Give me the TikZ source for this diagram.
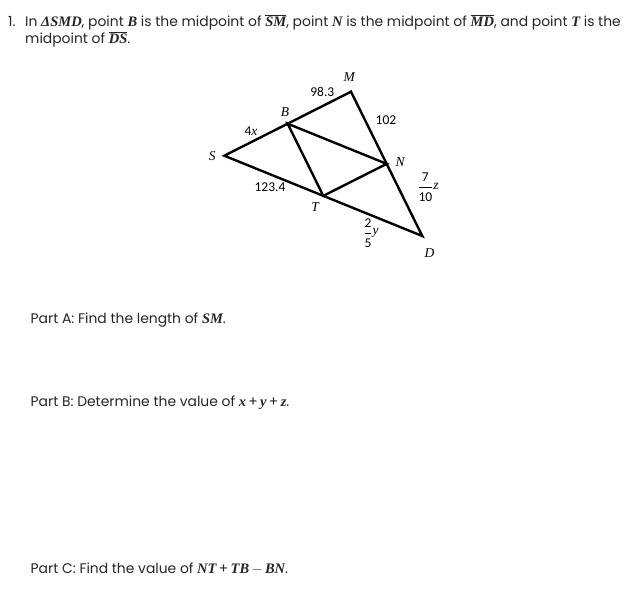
\documentclass[tikz,border=0pt]{standalone}
\usepackage{fontspec}
\usetikzlibrary{calc}
\setmainfont{Poppins}
\newfontfamily\mathser{Liberation Serif}
\newfontfamily\digs{Carlito}
\newcommand{\bv}[1]{{\mathser\bfseries\itshape\fontsize{14.5}{16}\selectfont #1}}
\newcommand{\ov}[1]{$\overline{\hbox{\bv{#1}}}$}
\begin{document}
\begin{tikzpicture}[x=1pt,y=-1pt,
  txt/.style={anchor=base west,inner sep=0pt,font=\fontsize{13.9}{16}\selectfont,text=black!85},
  pt/.style={inner sep=0pt,font=\mathser\itshape\fontsize{13.5}{15}\selectfont},
  num/.style={inner sep=0pt,font=\digs\fontsize{13.5}{15}\selectfont},
  edge/.style={line width=2.4pt,line join=miter}]
\useasboundingbox (0,0) rectangle (626,613);
\fill[white] (0,0) rectangle (626,613);
% text
\node[txt] (n1) at (8,26) {1.};
\node[txt] (l1) at (25,26) {In \bv{ΔSMD}, point \bv{B} is the midpoint of \ov{SM}, point \bv{N} is the midpoint of \ov{MD}, and point \bv{T} is the};
\node[txt] (l2) at (25,43) {midpoint of \ov{DS}.};
\node[txt] (pa) at (30.5,323) {Part A: Find the length of \bv{SM}.};
\node[txt] (pb) at (30.5,406) {Part B: Determine the value of \bv{x}\,+\,\bv{y}\,+\,\bv{z}.};
\node[txt] (pc) at (30.5,573) {Part C: Find the value of \bv{NT}\,+\,\bv{TB}\,$-$\,\bv{BN}.};
% geometry
\coordinate (S) at (224.3,155.7);
\coordinate (M) at (351,91.7);
\coordinate (D) at (422.3,236);
\coordinate (B) at ($(S)!0.5!(M)$);
\coordinate (N) at ($(M)!0.5!(D)$);
\coordinate (T) at ($(D)!0.5!(S)$);
\draw[edge] (S) -- (M) -- (D) -- cycle;
\draw[edge] (B) -- (N) -- (T) -- cycle;
% labels
\node[pt] (lM) at (349.3,76.7) {M};
\node[pt] (lB) at (285,112) {B};
\node[pt] (lS) at (212.3,156) {S};
\node[pt] (lN) at (400,161.7) {N};
\node[pt] (lT) at (315,206.7) {T};
\node[pt] (lD) at (429.5,252.7) {D};
\node[num] (l98) at (322.3,92.3) {98.3};
\node[num] (l4x) at (251,131) {4\hbox{\mathser\itshape x}};
\node[num] (l102) at (386,120) {102};
\node[num] (l123) at (270,187.5) {123.4};
\node[num] (lz) at (428,187) {$\displaystyle\frac{\hbox{\digs 7}}{\hbox{\digs 10}}$\hbox{\mathser\itshape\raisebox{2pt}{z}}};
\node[num] (ly) at (371,233) {$\displaystyle\frac{\hbox{\digs 2}}{\hbox{\digs 5}}$\hbox{\mathser\itshape\raisebox{3pt}{y}}};
\end{tikzpicture}
\end{document}
